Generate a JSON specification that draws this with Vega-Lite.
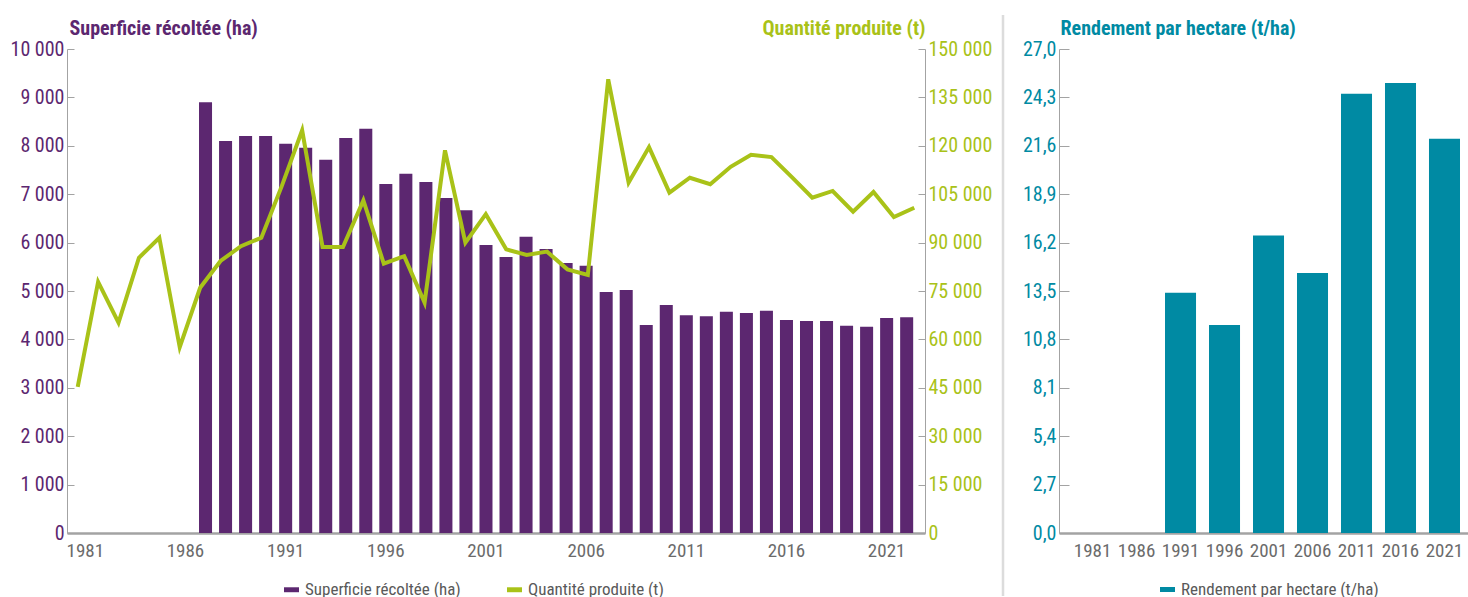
{
  "$schema": "https://vega.github.io/schema/vega-lite/v6.json",
  "autosize": {"type": "pad"},
  "padding": {"left": 10, "top": 13, "right": 0, "bottom": 0},
  "background": "white",
  "config": {
    "locale": {"number": {"decimal": ",", "thousands": " ", "grouping": [3], "currency": ["", " €"]}},
    "font": "Roboto Condensed, DejaVu Sans Condensed, Open Sans Condensed, Roboto, sans-serif",
    "view": {"stroke": null},
    "axis": {"grid": false, "domainColor": "#a3a3a3", "tickColor": "#a3a3a3", "labelFont": "Roboto Condensed, DejaVu Sans Condensed, Open Sans Condensed, Roboto, sans-serif", "titleFont": "Roboto Condensed, DejaVu Sans Condensed, Open Sans Condensed, Roboto, sans-serif"},
    "legend": {"labelFont": "Roboto Condensed, DejaVu Sans Condensed, Open Sans Condensed, Roboto, sans-serif", "labelLimit": 400}
  },
  "datasets": {
    "annuel": [
      {"annee": 1981, "superficie": null, "quantite": 45300},
      {"annee": 1982, "superficie": null, "quantite": 77800},
      {"annee": 1983, "superficie": null, "quantite": 65200},
      {"annee": 1984, "superficie": null, "quantite": 85300},
      {"annee": 1985, "superficie": null, "quantite": 91500},
      {"annee": 1986, "superficie": null, "quantite": 57600},
      {"annee": 1987, "superficie": 8900, "quantite": 76000},
      {"annee": 1988, "superficie": 8100, "quantite": 84300},
      {"annee": 1989, "superficie": 8200, "quantite": 88900},
      {"annee": 1990, "superficie": 8200, "quantite": 91500},
      {"annee": 1991, "superficie": 8040, "quantite": 107500},
      {"annee": 1992, "superficie": 7960, "quantite": 124800},
      {"annee": 1993, "superficie": 7710, "quantite": 88600},
      {"annee": 1994, "superficie": 8160, "quantite": 88600},
      {"annee": 1995, "superficie": 8350, "quantite": 103100},
      {"annee": 1996, "superficie": 7210, "quantite": 83500},
      {"annee": 1997, "superficie": 7420, "quantite": 85800},
      {"annee": 1998, "superficie": 7250, "quantite": 71400},
      {"annee": 1999, "superficie": 6920, "quantite": 118600},
      {"annee": 2000, "superficie": 6670, "quantite": 90000},
      {"annee": 2001, "superficie": 5950, "quantite": 98800},
      {"annee": 2002, "superficie": 5700, "quantite": 87900},
      {"annee": 2003, "superficie": 6120, "quantite": 86200},
      {"annee": 2004, "superficie": 5870, "quantite": 87200},
      {"annee": 2005, "superficie": 5580, "quantite": 81700},
      {"annee": 2006, "superficie": 5520, "quantite": 80000},
      {"annee": 2007, "superficie": 4980, "quantite": 140600},
      {"annee": 2008, "superficie": 5020, "quantite": 108600},
      {"annee": 2009, "superficie": 4300, "quantite": 119600},
      {"annee": 2010, "superficie": 4710, "quantite": 105500},
      {"annee": 2011, "superficie": 4500, "quantite": 110100},
      {"annee": 2012, "superficie": 4480, "quantite": 108100},
      {"annee": 2013, "superficie": 4570, "quantite": 113500},
      {"annee": 2014, "superficie": 4545, "quantite": 117200},
      {"annee": 2015, "superficie": 4590, "quantite": 116500},
      {"annee": 2016, "superficie": 4400, "quantite": 110300},
      {"annee": 2017, "superficie": 4380, "quantite": 103900},
      {"annee": 2018, "superficie": 4380, "quantite": 106000},
      {"annee": 2019, "superficie": 4280, "quantite": 99600},
      {"annee": 2020, "superficie": 4260, "quantite": 105700},
      {"annee": 2021, "superficie": 4440, "quantite": 97900},
      {"annee": 2022, "superficie": 4460, "quantite": 100800}
    ],
    "parhectare": [
      {"annee": 1981, "rendement": null},
      {"annee": 1986, "rendement": null},
      {"annee": 1991, "rendement": 13.4},
      {"annee": 1996, "rendement": 11.6},
      {"annee": 2001, "rendement": 16.6},
      {"annee": 2006, "rendement": 14.5},
      {"annee": 2011, "rendement": 24.5},
      {"annee": 2016, "rendement": 25.1},
      {"annee": 2021, "rendement": 22.0}
    ]
  },
  "bounds": "flush",
  "spacing": 56,
  "resolve": {"scale": {"color": "independent"}, "legend": {"color": "independent"}},
  "hconcat": [
    {
      "width": 858,
      "height": 484,
      "data": {"name": "annuel"},
      "layer": [
        {
          "mark": {"type": "bar", "color": "#5c2770"},
          "encoding": {
            "x": {
              "field": "annee", "type": "ordinal",
              "scale": {"domain": [1981,1982,1983,1984,1985,1986,1987,1988,1989,1990,1991,1992,1993,1994,1995,1996,1997,1998,1999,2000,2001,2002,2003,2004,2005,2006,2007,2008,2009,2010,2011,2012,2013,2014,2015,2016,2017,2018,2019,2020,2021,2022], "paddingInner": 0.35, "paddingOuter": 0.59},
              "axis": {"values": [1981,1986,1991,1996,2001,2006,2011,2016,2021], "title": null, "ticks": false, "labelAngle": 0, "labelColor": "#6b6b6b", "labelFontSize": 19, "labelPadding": 8, "domainWidth": 2.5, "labelFlush": false}
            },
            "y": {
              "field": "superficie", "type": "quantitative",
              "scale": {"domain": [0, 10000], "nice": false},
              "axis": {"title": "Superficie récoltée (ha)", "titleAngle": 0, "titleAlign": "left", "titleBaseline": "alphabetic", "titleX": 2, "titleY": -15, "titleColor": "#5c2770", "titleFontSize": 20, "titleFontWeight": "bold", "values": [0,1000,2000,3000,4000,5000,6000,7000,8000,9000,10000], "format": ",d", "labelColor": "#5c2770", "labelFontSize": 20, "tickSize": -7, "labelPadding": 10, "labelFlush": false, "labelOverlap": false}
            },
            "color": {
              "datum": "Superficie récoltée (ha)",
              "scale": {"domain": ["Superficie récoltée (ha)", "Quantité produite (t)"], "range": ["#5c2770", "#a9c218"]},
              "legend": {"orient": "none", "legendX": 216, "legendY": 532, "direction": "horizontal", "title": null, "symbolType": "M-1,-0.33H1V0.33H-1Z", "symbolSize": 225, "symbolStrokeWidth": 0, "labelFontSize": 17, "labelColor": "#595959", "labelOffset": 5, "columnPadding": 45}
            }
          }
        },
        {
          "mark": {"type": "line", "color": "#a9c218", "strokeWidth": 4},
          "encoding": {
            "x": {"field": "annee", "type": "ordinal", "scale": {"type": "point", "padding": 0.525}, "axis": null},
            "y": {
              "field": "quantite", "type": "quantitative",
              "scale": {"domain": [0, 150000], "nice": false},
              "axis": {"orient": "right", "title": "Quantité produite (t)", "titleAngle": 0, "titleAlign": "right", "titleBaseline": "alphabetic", "titleX": 0, "titleY": -15, "titleColor": "#a9c218", "titleFontSize": 20, "titleFontWeight": "bold", "values": [0,15000,30000,45000,60000,75000,90000,105000,120000,135000,150000], "format": ",d", "labelColor": "#a9c218", "labelFontSize": 20, "tickSize": -7, "labelPadding": 10, "labelFlush": false, "labelOverlap": false}
            }
          }
        }
      ],
      "resolve": {"scale": {"x": "independent", "y": "independent"}}
    },
    {
      "width": 22,
      "height": 484,
      "data": {"values": [{}]},
      "mark": {"type": "rule", "color": "#dcdcdc", "strokeWidth": 2.5},
      "encoding": {
        "x": {"datum": 1, "type": "quantitative", "scale": {"domain": [0, 1]}, "axis": null},
        "y": {"datum": 1.07, "type": "quantitative", "scale": {"domain": [0, 1]}, "axis": null},
        "y2": {"datum": -0.13}
      }
    },
    {
      "width": 410,
      "height": 484,
      "data": {"name": "parhectare"},
      "mark": {"type": "bar", "color": "#008aa3"},
      "encoding": {
        "x": {
          "field": "annee", "type": "ordinal",
          "scale": {"domain": [1981,1986,1991,1996,2001,2006,2011,2016,2021], "paddingInner": 0.295, "paddingOuter": 0.307, "align": 0.667},
          "axis": {"title": null, "ticks": false, "labelAngle": 0, "labelColor": "#6b6b6b", "labelFontSize": 19, "labelPadding": 8, "domainWidth": 2.5}
        },
        "y": {
          "field": "rendement", "type": "quantitative",
          "scale": {"domain": [0, 27], "nice": false},
          "axis": {"title": "Rendement par hectare (t/ha)", "titleAngle": 0, "titleAlign": "left", "titleBaseline": "alphabetic", "titleX": 1, "titleY": -15, "titleColor": "#008aa3", "titleFontSize": 20, "titleFontWeight": "bold", "values": [0,2.7,5.4,8.1,10.8,13.5,16.2,18.9,21.6,24.3,27], "format": ".1f", "labelColor": "#008aa3", "labelFontSize": 20, "tickSize": -10, "labelPadding": 13, "labelFlush": false, "labelOverlap": false}
        },
        "color": {
          "datum": "Rendement par hectare (t/ha)",
          "scale": {"range": ["#008aa3"]},
          "legend": {"orient": "none", "legendX": 100, "legendY": 532, "direction": "horizontal", "title": null, "symbolType": "M-1,-0.33H1V0.33H-1Z", "symbolSize": 225, "symbolStrokeWidth": 0, "labelFontSize": 17, "labelColor": "#595959", "labelOffset": 5}
        }
      }
    }
  ]
}
